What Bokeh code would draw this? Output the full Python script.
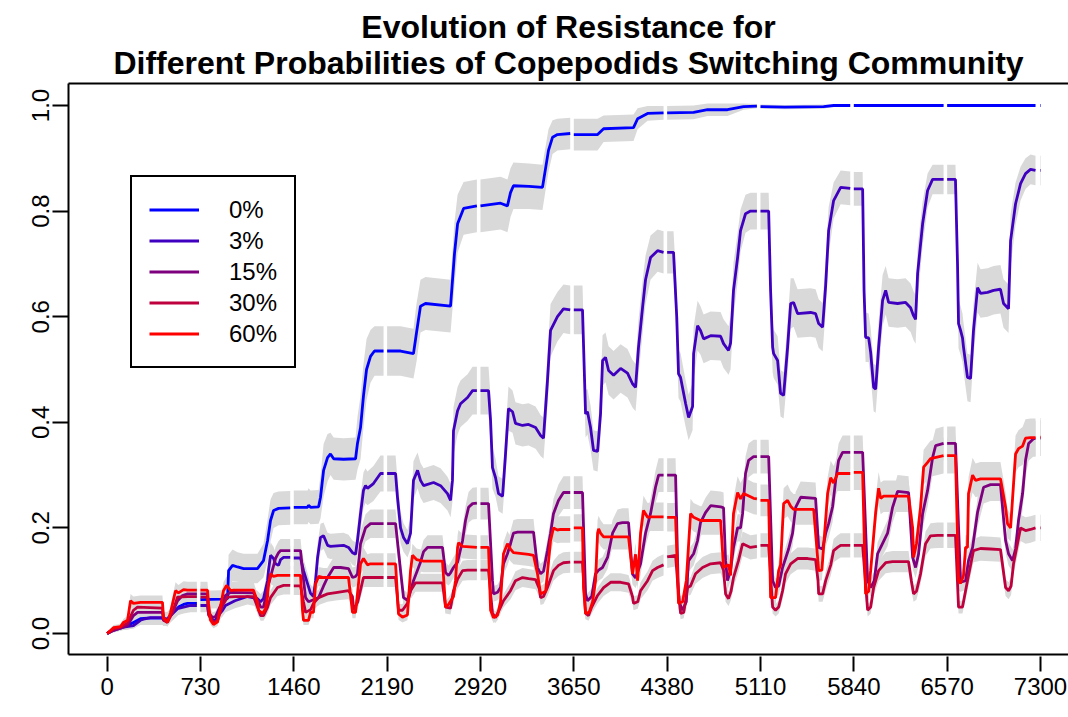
import math
from bokeh.plotting import figure
from bokeh.models import Range1d, FixedTicker, LinearAxis, Legend, LegendItem, PrintfTickFormatter, BasicTickFormatter, Title
from bokeh.embed import file_html
from bokeh.resources import INLINE

NA = float("nan")

title_line1 = "Evolution of Resistance for"
title_line2 = "Different Probabilities of Copepodids Switching Community"
x_ticks = [0, 730, 1460, 2190, 2920, 3650, 4380, 5110, 5840, 6570, 7300]
y_ticks = [0.0, 0.2, 0.4, 0.6, 0.8, 1.0]
legend_labels = ["0%", "3%", "15%", "30%", "60%"]
line_colors = ["#0000FF", "#3F00BF", "#7F007F", "#BF003F", "#FF0000"]
band_color = "#D9D9D9"

# ---------------- 0% ----------------
days_0 = [0, 50, 105, 160, 206, 261, 316, 433, 441, 472, 496, 519, 558, 598, 629, 702, 716,
          730, 900, 942, 950, 981, 1020, 1067, 1176, 1223, 1255, 1278, 1302, 1341, 1432, 1446,
          1460, 1568, 1575, 1591, 1654, 1669, 1693, 1724, 1747, 1772, 1849, 1943, 1958, 1982, 2005, 2029, 2060, 2091, 2162, 2176,
          2190, 2295, 2396, 2420, 2451, 2490, 2686, 2717, 2741, 2788, 2892, 2906,
          2920, 3077, 3131, 3155, 3178, 3300, 3405, 3452, 3484, 3522, 3622, 3636,
          3650, 3836, 3883, 4117, 4149, 4227, 4352, 4366,
          4380, 4587, 4696, 4852, 4978, 5082, 5096,
          5110, 5300, 5604, 5683, 5812, 5826,
          5840, 6542, 6556,
          6570, 7261, 7280,
          7296, 7300]
res_0 = [0.0, 0.008, 0.012, 0.015, 0.021, 0.028, 0.029, 0.029, 0.027, 0.028, 0.034, 0.04, 0.05, 0.055, 0.057, 0.057, NA,
         0.064, 0.065, 0.066, 0.119, 0.129, 0.126, 0.123, 0.123, 0.138, 0.176, 0.214, 0.233, 0.237, 0.238, NA,
         0.239, 0.239, 0.243, 0.239, 0.24, 0.258, 0.309, 0.333, 0.34, 0.331, 0.33, 0.331, 0.36, 0.39, 0.45, 0.5, 0.525, 0.535, 0.535, NA,
         0.535, 0.535, 0.53, 0.57, 0.62, 0.625, 0.62, 0.72, 0.776, 0.805, 0.81, NA,
         0.81, 0.815, 0.81, 0.835, 0.848, 0.847, 0.845, 0.915, 0.94, 0.945, 0.947, NA,
         0.945, 0.945, 0.956, 0.958, 0.975, 0.985, 0.986, NA,
         0.986, 0.987, 0.992, 0.992, 0.998, 0.999, NA,
         0.998, 0.997, 0.998, 1.0, 1.0, NA,
         1.0, 1.0, NA,
         1.0, 1.0, NA,
         1.0, 1.0]
ci_0 = [0.002, 0.005, 0.006, 0.008, 0.01, 0.012, 0.013, 0.013, 0.013, 0.013, 0.013, 0.014, 0.015, 0.016, 0.016, 0.016, NA,
        0.017, 0.017, 0.018, 0.03, 0.03, 0.028, 0.028, 0.028, 0.032, 0.04, 0.04, 0.033, 0.032, 0.032, NA,
        0.032, 0.032, 0.032, 0.032, 0.032, 0.04, 0.05, 0.045, 0.04, 0.04, 0.04, 0.04, 0.05, 0.06, 0.06, 0.058, 0.05, 0.047, 0.047, NA,
        0.047, 0.047, 0.047, 0.055, 0.05, 0.05, 0.05, 0.06, 0.055, 0.05, 0.05, NA,
        0.05, 0.05, 0.05, 0.046, 0.044, 0.043, 0.043, 0.04, 0.032, 0.03, 0.03, NA,
        0.03, 0.03, 0.025, 0.025, 0.02, 0.014, 0.013, NA,
        0.013, 0.013, 0.012, 0.012, 0.006, 0.004, NA,
        0.004, 0.004, 0.004, 0.002, 0.002, NA,
        0.002, 0.002, NA,
        0.002, 0.002, NA,
        0.002, 0.002]

# ---------------- 3% ----------------
days_3 = [0, 50, 128, 206, 261, 285, 339, 433, 441, 472, 496, 551, 598, 652, 702, 716,
          730, 785, 793, 824, 848, 871, 903, 926, 1000, 1098, 1176, 1200, 1223, 1255, 1262, 1278, 1302, 1317, 1341, 1357, 1380, 1432, 1446,
          1460, 1513, 1536, 1568, 1591, 1614, 1630, 1646, 1669, 1693, 1724, 1747, 1849, 1888, 1919, 1943, 1958, 1982, 2005, 2021, 2036, 2083, 2138, 2162, 2176,
          2190, 2256, 2271, 2295, 2318, 2349, 2373, 2396, 2428, 2451, 2475, 2553, 2608, 2662, 2686, 2701, 2709, 2741, 2764, 2819, 2858, 2892, 2906,
          2920, 2983, 2999, 3014, 3038, 3061, 3093, 3116, 3139, 3171, 3194, 3249, 3296, 3351, 3390, 3413, 3444, 3468, 3522, 3569, 3622, 3636,
          3650, 3718, 3742, 3757, 3781, 3804, 3836, 3859, 3875, 3898, 3922, 3961, 4016, 4070, 4109, 4133, 4156, 4188, 4211, 4250, 4305, 4352, 4366,
          4380, 4430, 4455, 4469, 4485, 4524, 4548, 4579, 4587, 4618, 4641, 4665, 4720, 4798, 4821, 4860, 4876, 4899, 4931, 4954, 4993, 5032, 5082, 5096,
          5110, 5174, 5189, 5205, 5213, 5244, 5267, 5291, 5322, 5346, 5369, 5400, 5502, 5541, 5565, 5596, 5620, 5643, 5682, 5737, 5812, 5826,
          5840, 5909, 5920, 5932, 5956, 5972, 5995, 6011, 6034, 6065, 6089, 6112, 6182, 6245, 6284, 6307, 6323, 6339, 6378, 6417, 6456, 6542, 6556,
          6570, 6635, 6651, 6659, 6675, 6690, 6698, 6729, 6753, 6776, 6808, 6831, 6886, 6933, 6987, 7011, 7050, 7066, 7105, 7144, 7183, 7222, 7261, 7280,
          7296, 7300]
res_3 = [0.0, 0.006, 0.012, 0.015, 0.025, 0.027, 0.03, 0.03, 0.025, 0.026, 0.034, 0.047, 0.05, 0.053, 0.053, NA,
         0.053, 0.053, 0.038, 0.025, 0.025, 0.035, 0.044, 0.053, 0.062, 0.07, 0.066, 0.06, 0.066, 0.1, 0.119, 0.148, 0.142, 0.132, 0.129, 0.14, 0.144, 0.144, NA,
         0.143, 0.143, 0.119, 0.094, 0.076, 0.07, 0.1, 0.144, 0.182, 0.185, 0.167, 0.165, 0.167, 0.163, 0.153, 0.15, 0.176, 0.227, 0.271, 0.28, 0.275, 0.284, 0.303, 0.303, NA,
         0.303, 0.303, 0.258, 0.2, 0.182, 0.17, 0.19, 0.29, 0.309, 0.29, 0.28, 0.286, 0.28, 0.265, 0.252, 0.29, 0.384, 0.422, 0.435, 0.447, 0.46, 0.46, NA,
         0.46, 0.46, 0.403, 0.314, 0.295, 0.265, 0.26, 0.34, 0.426, 0.42, 0.398, 0.394, 0.396, 0.39, 0.375, 0.37, 0.479, 0.574, 0.6, 0.615, 0.613, NA,
         0.613, 0.613, 0.416, 0.42, 0.39, 0.347, 0.345, 0.416, 0.517, 0.523, 0.498, 0.489, 0.502, 0.493, 0.473, 0.466, 0.542, 0.618, 0.67, 0.712, 0.725, 0.722, NA,
         0.722, 0.722, 0.6, 0.492, 0.485, 0.436, 0.409, 0.43, 0.53, 0.583, 0.574, 0.558, 0.564, 0.563, 0.549, 0.536, 0.55, 0.65, 0.712, 0.763, 0.795, 0.8, 0.8, NA,
         0.8, 0.8, 0.65, 0.542, 0.53, 0.517, 0.455, 0.451, 0.542, 0.625, 0.627, 0.606, 0.608, 0.606, 0.587, 0.58, 0.66, 0.763, 0.82, 0.845, 0.843, NA,
         0.842, 0.842, 0.65, 0.561, 0.56, 0.532, 0.466, 0.463, 0.542, 0.631, 0.65, 0.627, 0.625, 0.627, 0.617, 0.602, 0.595, 0.682, 0.776, 0.839, 0.86, 0.86, NA,
         0.86, 0.86, 0.7, 0.587, 0.574, 0.56, 0.542, 0.485, 0.483, 0.574, 0.655, 0.644, 0.646, 0.65, 0.652, 0.625, 0.615, 0.744, 0.814, 0.852, 0.871, 0.879, 0.877, NA,
         0.877, 0.877]
ci_3 = [0.002, 0.004, 0.005, 0.006, 0.008, 0.009, 0.009, 0.009, 0.009, 0.009, 0.01, 0.012, 0.012, 0.013, 0.013, NA,
        0.013, 0.013, 0.012, 0.01, 0.01, 0.011, 0.012, 0.013, 0.014, 0.015, 0.015, 0.015, 0.015, 0.022, 0.024, 0.025, 0.022, 0.021, 0.021, 0.022, 0.022, 0.022, NA,
        0.022, 0.022, 0.022, 0.02, 0.017, 0.017, 0.022, 0.026, 0.026, 0.025, 0.024, 0.024, 0.024, 0.024, 0.023, 0.023, 0.028, 0.034, 0.034, 0.033, 0.032, 0.033, 0.034, 0.034, NA,
        0.034, 0.034, 0.034, 0.03, 0.027, 0.026, 0.03, 0.036, 0.034, 0.033, 0.033, 0.033, 0.033, 0.032, 0.032, 0.04, 0.045, 0.045, 0.044, 0.044, 0.045, 0.045, NA,
        0.045, 0.045, 0.045, 0.04, 0.036, 0.033, 0.033, 0.04, 0.042, 0.04, 0.04, 0.04, 0.04, 0.04, 0.039, 0.039, 0.05, 0.05, 0.047, 0.046, 0.046, NA,
        0.046, 0.046, 0.045, 0.043, 0.042, 0.038, 0.038, 0.045, 0.048, 0.047, 0.046, 0.046, 0.046, 0.046, 0.045, 0.045, 0.052, 0.05, 0.046, 0.042, 0.04, 0.04, NA,
        0.04, 0.04, 0.05, 0.046, 0.046, 0.044, 0.043, 0.045, 0.05, 0.047, 0.046, 0.046, 0.046, 0.046, 0.046, 0.046, 0.05, 0.052, 0.046, 0.04, 0.036, 0.035, 0.035, NA,
        0.035, 0.035, 0.05, 0.047, 0.046, 0.046, 0.044, 0.044, 0.05, 0.048, 0.046, 0.046, 0.046, 0.046, 0.046, 0.046, 0.05, 0.045, 0.034, 0.032, 0.032, NA,
        0.032, 0.032, 0.05, 0.047, 0.046, 0.046, 0.045, 0.045, 0.05, 0.048, 0.046, 0.046, 0.046, 0.046, 0.046, 0.046, 0.046, 0.05, 0.042, 0.032, 0.028, 0.028, NA,
        0.028, 0.028, 0.05, 0.047, 0.046, 0.046, 0.046, 0.045, 0.045, 0.05, 0.047, 0.046, 0.046, 0.046, 0.046, 0.046, 0.046, 0.05, 0.04, 0.032, 0.029, 0.028, 0.028, NA,
        0.028, 0.028]

# ---------------- 15% ----------------
days_15 = [0, 50, 105, 160, 206, 238, 433, 441, 472, 512, 551, 590, 629, 702, 716,
           730, 785, 793, 824, 848, 887, 926, 966, 1145, 1184, 1200, 1223, 1255, 1317, 1341, 1357, 1432, 1446,
           1460, 1513, 1528, 1552, 1575, 1614, 1654, 1693, 1724, 1772, 1826, 1888, 1919, 1943, 1958, 1982, 2021, 2060, 2162, 2176,
           2190, 2256, 2295, 2318, 2349, 2373, 2396, 2451, 2475, 2506, 2623, 2647, 2670, 2686, 2709, 2741, 2780, 2803, 2827, 2858, 2892, 2906,
           2920, 2983, 3014, 3022, 3054, 3077, 3100, 3131, 3155, 3178, 3210, 3335, 3366, 3390, 3413, 3444, 3468, 3491, 3530, 3569, 3622, 3636,
           3650, 3718, 3742, 3757, 3790, 3820, 3844, 3875, 3914, 3953, 3992, 4031, 4078, 4109, 4133, 4172, 4211, 4250, 4289, 4313, 4352, 4366,
           4380, 4446, 4469, 4501, 4530, 4540, 4548, 4587, 4618, 4641, 4680, 4720, 4798, 4821, 4837, 4852, 4876, 4899, 4931, 4954, 4970, 4993, 5017, 5056, 5082, 5096,
           5110, 5174, 5205, 5228, 5252, 5283, 5306, 5330, 5361, 5385, 5424, 5541, 5565, 5596, 5620, 5643, 5674, 5698, 5721, 5752, 5812, 5826,
           5840, 5909, 5948, 5972, 6000, 6026, 6050, 6104, 6143, 6182, 6268, 6300, 6323, 6346, 6378, 6417, 6456, 6480, 6542, 6556,
           6570, 6635, 6675, 6714, 6737, 6769, 6808, 6855, 6909, 6987, 7027, 7050, 7081, 7105, 7128, 7160, 7183, 7207, 7245, 7261, 7280,
           7296, 7300]
res_15 = [0.0, 0.006, 0.01, 0.015, 0.034, 0.04, 0.04, 0.03, 0.025, 0.04, 0.062, 0.072, 0.075, 0.075, NA,
          0.075, 0.075, 0.04, 0.03, 0.032, 0.053, 0.072, 0.078, 0.077, 0.06, 0.05, 0.05, 0.087, 0.142, 0.153, 0.157, 0.157, NA,
          0.157, 0.157, 0.119, 0.068, 0.06, 0.064, 0.068, 0.09, 0.106, 0.125, 0.125, 0.123, 0.106, 0.108, 0.113, 0.17, 0.2, 0.208, 0.208, NA,
          0.208, 0.208, 0.119, 0.068, 0.063, 0.081, 0.1, 0.135, 0.155, 0.163, 0.163, 0.115, 0.11, 0.115, 0.125, 0.135, 0.176, 0.214, 0.239, 0.246, 0.247, NA,
          0.246, 0.246, 0.1, 0.075, 0.078, 0.087, 0.132, 0.151, 0.17, 0.19, 0.192, 0.192, 0.125, 0.113, 0.118, 0.157, 0.19, 0.227, 0.252, 0.267, 0.267, NA,
          0.267, 0.267, 0.075, 0.062, 0.07, 0.113, 0.12, 0.125, 0.144, 0.19, 0.208, 0.21, 0.21, 0.113, 0.105, 0.132, 0.19, 0.227, 0.277, 0.3, 0.3, NA,
          0.3, 0.3, 0.062, 0.044, 0.06, 0.11, 0.138, 0.151, 0.176, 0.21, 0.229, 0.242, 0.24, 0.238, 0.138, 0.1, 0.12, 0.163, 0.2, 0.2, 0.227, 0.303, 0.328, 0.335, 0.335, NA,
          0.335, 0.335, 0.1, 0.087, 0.09, 0.125, 0.142, 0.16, 0.19, 0.239, 0.258, 0.256, 0.163, 0.16, 0.19, 0.208, 0.24, 0.29, 0.328, 0.343, 0.343, NA,
          0.343, 0.343, 0.1, 0.087, 0.1, 0.151, 0.163, 0.19, 0.239, 0.269, 0.267, 0.144, 0.125, 0.15, 0.227, 0.271, 0.333, 0.356, 0.36, NA,
          0.36, 0.36, 0.097, 0.1, 0.138, 0.163, 0.23, 0.277, 0.282, 0.282, 0.176, 0.151, 0.138, 0.16, 0.214, 0.265, 0.328, 0.36, 0.369, 0.369, NA,
          0.37, 0.37]
ci_15 = [0.002, 0.004, 0.005, 0.006, 0.01, 0.011, 0.011, 0.01, 0.009, 0.011, 0.013, 0.014, 0.015, 0.015, NA,
         0.015, 0.015, 0.012, 0.01, 0.01, 0.013, 0.015, 0.015, 0.015, 0.014, 0.013, 0.013, 0.018, 0.022, 0.022, 0.022, 0.022, NA,
         0.022, 0.022, 0.02, 0.015, 0.014, 0.014, 0.015, 0.017, 0.019, 0.02, 0.02, 0.02, 0.019, 0.019, 0.02, 0.025, 0.026, 0.027, 0.027, NA,
         0.027, 0.027, 0.022, 0.015, 0.014, 0.016, 0.018, 0.021, 0.022, 0.023, 0.023, 0.02, 0.019, 0.02, 0.02, 0.021, 0.025, 0.027, 0.029, 0.03, 0.03, NA,
         0.03, 0.03, 0.02, 0.015, 0.015, 0.016, 0.021, 0.022, 0.024, 0.025, 0.025, 0.025, 0.02, 0.019, 0.02, 0.023, 0.025, 0.028, 0.03, 0.031, 0.031, NA,
         0.031, 0.031, 0.016, 0.014, 0.015, 0.02, 0.02, 0.02, 0.022, 0.025, 0.027, 0.027, 0.027, 0.02, 0.019, 0.021, 0.025, 0.028, 0.031, 0.032, 0.032, NA,
         0.032, 0.032, 0.014, 0.012, 0.014, 0.019, 0.021, 0.022, 0.024, 0.027, 0.028, 0.029, 0.029, 0.029, 0.021, 0.018, 0.02, 0.023, 0.026, 0.026, 0.028, 0.032, 0.032, 0.032, 0.032, NA,
         0.032, 0.032, 0.018, 0.017, 0.017, 0.02, 0.022, 0.023, 0.025, 0.029, 0.03, 0.03, 0.023, 0.023, 0.025, 0.027, 0.029, 0.032, 0.032, 0.032, 0.032, NA,
         0.032, 0.032, 0.018, 0.017, 0.018, 0.022, 0.023, 0.025, 0.029, 0.031, 0.031, 0.022, 0.02, 0.022, 0.028, 0.031, 0.032, 0.032, 0.032, NA,
         0.032, 0.032, 0.018, 0.018, 0.021, 0.023, 0.028, 0.031, 0.031, 0.031, 0.024, 0.022, 0.021, 0.023, 0.027, 0.031, 0.032, 0.033, 0.034, 0.034, NA,
         0.034, 0.034]

# ---------------- 30% ----------------
days_30 = [0, 50, 105, 160, 206, 238, 433, 441, 472, 512, 551, 629, 702, 716,
           730, 785, 793, 832, 864, 903, 942, 1000, 1145, 1184, 1200, 1223, 1255, 1278, 1333, 1380, 1432, 1446,
           1460, 1513, 1536, 1552, 1591, 1614, 1654, 1724, 1802, 1888, 1919, 1927, 1960, 2005, 2060, 2162, 2176,
           2190, 2256, 2279, 2310, 2349, 2373, 2412, 2475, 2623, 2647, 2686, 2709, 2741, 2780, 2820, 2892, 2906,
           2920, 2983, 3014, 3038, 3077, 3100, 3155, 3194, 3249, 3296, 3351, 3380, 3390, 3413, 3444, 3491, 3530, 3569, 3622, 3636,
           3650, 3718, 3742, 3765, 3790, 3836, 3883, 3938, 4016, 4078, 4109, 4117, 4150, 4172, 4227, 4266, 4305, 4352, 4366,
           4380, 4446, 4461, 4485, 4510, 4540, 4563, 4602, 4657, 4720, 4798, 4821, 4837, 4860, 4880, 4899, 4938, 4970, 5032, 5082, 5096,
           5110, 5174, 5205, 5228, 5252, 5283, 5306, 5346, 5400, 5479, 5541, 5560, 5565, 5596, 5620, 5660, 5682, 5713, 5737, 5812, 5826,
           5840, 5909, 5948, 5972, 5995, 6034, 6089, 6143, 6268, 6290, 6307, 6330, 6362, 6401, 6440, 6495, 6542, 6556,
           6570, 6635, 6659, 6690, 6729, 6776, 6831, 6909, 6987, 7027, 7050, 7070, 7089, 7144, 7183, 7222, 7261, 7280,
           7296, 7300]
res_30 = [0.0, 0.008, 0.012, 0.02, 0.044, 0.05, 0.048, 0.025, 0.021, 0.04, 0.069, 0.07, 0.07, NA,
          0.069, 0.069, 0.035, 0.021, 0.025, 0.053, 0.069, 0.07, 0.07, 0.045, 0.034, 0.034, 0.05, 0.068, 0.087, 0.091, 0.091, NA,
          0.09, 0.09, 0.06, 0.04, 0.045, 0.057, 0.068, 0.075, 0.078, 0.081, 0.07, 0.044, 0.06, 0.106, 0.106, 0.106, NA,
          0.106, 0.106, 0.044, 0.044, 0.057, 0.081, 0.096, 0.096, 0.096, 0.05, 0.048, 0.081, 0.103, 0.119, 0.12, 0.12, NA,
          0.12, 0.12, 0.038, 0.03, 0.05, 0.062, 0.081, 0.1, 0.106, 0.104, 0.102, 0.085, 0.068, 0.07, 0.087, 0.119, 0.129, 0.134, 0.135, NA,
          0.135, 0.135, 0.038, 0.034, 0.05, 0.072, 0.087, 0.097, 0.097, 0.094, 0.07, 0.057, 0.06, 0.081, 0.1, 0.119, 0.125, 0.13, NA,
          0.145, 0.148, 0.1, 0.038, 0.04, 0.087, 0.09, 0.113, 0.125, 0.132, 0.134, 0.12, 0.075, 0.066, 0.08, 0.106, 0.138, 0.17, 0.163, 0.165, NA,
          0.167, 0.167, 0.05, 0.044, 0.05, 0.081, 0.113, 0.132, 0.142, 0.142, 0.14, 0.1, 0.075, 0.075, 0.1, 0.13, 0.157, 0.163, 0.167, 0.167, NA,
          0.167, 0.167, 0.044, 0.05, 0.087, 0.119, 0.134, 0.136, 0.136, 0.1, 0.075, 0.08, 0.113, 0.17, 0.185, 0.186, 0.186, NA,
          0.186, 0.186, 0.05, 0.05, 0.1, 0.157, 0.161, 0.16, 0.159, 0.087, 0.081, 0.09, 0.132, 0.2, 0.195, 0.197, 0.2, NA,
          0.2, 0.2]
ci_30 = [0.002, 0.004, 0.005, 0.007, 0.011, 0.012, 0.012, 0.009, 0.008, 0.011, 0.014, 0.014, 0.014, NA,
         0.014, 0.014, 0.01, 0.008, 0.009, 0.012, 0.014, 0.014, 0.014, 0.012, 0.01, 0.01, 0.012, 0.014, 0.016, 0.017, 0.017, NA,
         0.017, 0.017, 0.014, 0.011, 0.012, 0.013, 0.014, 0.015, 0.015, 0.016, 0.014, 0.012, 0.013, 0.018, 0.018, 0.018, NA,
         0.018, 0.018, 0.012, 0.012, 0.013, 0.016, 0.017, 0.017, 0.017, 0.012, 0.012, 0.016, 0.018, 0.019, 0.019, 0.019, NA,
         0.019, 0.019, 0.011, 0.01, 0.012, 0.013, 0.016, 0.018, 0.018, 0.018, 0.018, 0.016, 0.014, 0.014, 0.016, 0.019, 0.02, 0.02, 0.02, NA,
         0.02, 0.02, 0.011, 0.01, 0.012, 0.015, 0.016, 0.017, 0.017, 0.017, 0.014, 0.013, 0.013, 0.016, 0.018, 0.019, 0.02, 0.02, NA,
         0.021, 0.021, 0.018, 0.011, 0.011, 0.016, 0.017, 0.019, 0.02, 0.02, 0.02, 0.019, 0.015, 0.014, 0.016, 0.018, 0.021, 0.023, 0.023, 0.023, NA,
         0.023, 0.023, 0.012, 0.012, 0.012, 0.016, 0.019, 0.02, 0.021, 0.021, 0.021, 0.018, 0.015, 0.015, 0.018, 0.02, 0.022, 0.023, 0.023, 0.023, NA,
         0.023, 0.023, 0.012, 0.012, 0.016, 0.019, 0.02, 0.02, 0.02, 0.018, 0.015, 0.016, 0.019, 0.023, 0.024, 0.024, 0.024, NA,
         0.024, 0.024, 0.012, 0.012, 0.018, 0.022, 0.023, 0.023, 0.023, 0.016, 0.016, 0.017, 0.02, 0.025, 0.025, 0.025, 0.025, NA,
         0.025, 0.025]

# ---------------- 60% ----------------
days_60 = [0, 50, 105, 128, 160, 183, 206, 261, 433, 441, 472, 496, 535, 558, 598, 629, 702, 716,
           730, 785, 793, 809, 832, 864, 910, 934, 966, 989, 1145, 1176, 1184, 1215, 1239, 1255, 1262, 1278, 1302, 1333, 1432, 1446,
           1460, 1513, 1528, 1536, 1575, 1591, 1614, 1630, 1654, 1693, 1888, 1919, 1943, 1960, 1982, 2005, 2036, 2060, 2162, 2176,
           2190, 2256, 2279, 2310, 2349, 2373, 2388, 2420, 2475, 2623, 2647, 2670, 2709, 2725, 2741, 2748, 2780, 2892, 2906,
           2920, 2983, 2999, 3022, 3054, 3077, 3100, 3131, 3155, 3178, 3296, 3335, 3366, 3390, 3430, 3468, 3491, 3522, 3546, 3622, 3636,
           3650, 3718, 3726, 3742, 3770, 3797, 3820, 3836, 3844, 3859, 3883, 4078, 4109, 4133, 4149, 4172, 4195, 4227, 4250, 4352, 4366,
           4380, 4446, 4469, 4501, 4530, 4563, 4587, 4641, 4798, 4821, 4860, 4876, 4899, 4931, 4954, 4978, 5056, 5082, 5096,
           5110, 5174, 5189, 5228, 5252, 5267, 5291, 5322, 5346, 5369, 5526, 5565, 5590, 5635, 5659, 5682, 5713, 5737, 5812, 5826,
           5840, 5909, 5932, 5956, 5972, 6011, 6034, 6050, 6073, 6268, 6300, 6307, 6330, 6362, 6386, 6417, 6440, 6542, 6556,
           6570, 6635, 6659, 6675, 6698, 6714, 6729, 6737, 6769, 6792, 6831, 6987, 7027, 7042, 7066, 7105, 7128, 7160, 7183, 7222, 7261, 7280,
           7296, 7300]
res_60 = [0.0, 0.011, 0.013, 0.021, 0.025, 0.062, 0.057, 0.059, 0.059, 0.03, 0.021, 0.04, 0.081, 0.077, 0.083, 0.082, 0.082, NA,
          0.082, 0.082, 0.057, 0.025, 0.017, 0.022, 0.081, 0.091, 0.081, 0.082, 0.082, 0.06, 0.044, 0.038, 0.047, 0.07, 0.094, 0.113, 0.108, 0.11, 0.11, NA,
          0.11, 0.11, 0.044, 0.025, 0.025, 0.04, 0.04, 0.094, 0.108, 0.106, 0.106, 0.04, 0.04, 0.08, 0.132, 0.142, 0.13, 0.132, 0.132, NA,
          0.132, 0.132, 0.037, 0.031, 0.035, 0.119, 0.148, 0.14, 0.137, 0.137, 0.05, 0.055, 0.07, 0.1, 0.163, 0.172, 0.165, 0.163, NA,
          0.163, 0.163, 0.044, 0.03, 0.035, 0.06, 0.151, 0.17, 0.16, 0.153, 0.15, 0.148, 0.113, 0.075, 0.08, 0.176, 0.2, 0.196, 0.197, 0.197, NA,
          0.2, 0.2, 0.087, 0.038, 0.04, 0.06, 0.1, 0.19, 0.198, 0.19, 0.183, 0.183, 0.113, 0.15, 0.1, 0.19, 0.233, 0.22, 0.221, 0.221, NA,
          0.22, 0.22, 0.057, 0.06, 0.1, 0.227, 0.22, 0.214, 0.214, 0.125, 0.13, 0.11, 0.227, 0.267, 0.255, 0.265, 0.256, 0.255, NA,
          0.252, 0.252, 0.068, 0.068, 0.119, 0.13, 0.246, 0.252, 0.241, 0.235, 0.235, 0.119, 0.12, 0.265, 0.295, 0.285, 0.303, 0.303, 0.303, NA,
          0.305, 0.305, 0.075, 0.08, 0.12, 0.23, 0.275, 0.256, 0.26, 0.26, 0.2, 0.144, 0.17, 0.239, 0.315, 0.324, 0.331, 0.337, NA,
          0.337, 0.337, 0.1, 0.095, 0.11, 0.163, 0.163, 0.265, 0.3, 0.29, 0.293, 0.293, 0.239, 0.208, 0.2, 0.34, 0.35, 0.355, 0.37, 0.371, 0.371, NA,
          0.372, 0.372]
ci_60 = [0.002, 0.005, 0.005, 0.007, 0.008, 0.013, 0.013, 0.013, 0.013, 0.01, 0.008, 0.011, 0.016, 0.015, 0.016, 0.016, 0.016, NA,
         0.016, 0.016, 0.013, 0.009, 0.007, 0.008, 0.016, 0.017, 0.016, 0.016, 0.016, 0.014, 0.012, 0.011, 0.012, 0.014, 0.017, 0.019, 0.018, 0.018, 0.018, NA,
         0.018, 0.018, 0.012, 0.009, 0.009, 0.011, 0.011, 0.017, 0.018, 0.018, 0.018, 0.011, 0.011, 0.016, 0.02, 0.021, 0.02, 0.02, 0.02, NA,
         0.02, 0.02, 0.011, 0.01, 0.01, 0.019, 0.022, 0.021, 0.021, 0.021, 0.012, 0.013, 0.014, 0.018, 0.023, 0.024, 0.023, 0.023, NA,
         0.023, 0.023, 0.012, 0.01, 0.01, 0.013, 0.022, 0.024, 0.023, 0.022, 0.022, 0.022, 0.019, 0.015, 0.016, 0.024, 0.026, 0.025, 0.025, 0.025, NA,
         0.026, 0.026, 0.016, 0.011, 0.011, 0.013, 0.018, 0.025, 0.025, 0.025, 0.024, 0.024, 0.019, 0.022, 0.018, 0.025, 0.028, 0.027, 0.027, 0.027, NA,
         0.027, 0.027, 0.013, 0.013, 0.018, 0.028, 0.027, 0.027, 0.027, 0.02, 0.02, 0.018, 0.028, 0.031, 0.03, 0.031, 0.03, 0.03, NA,
         0.03, 0.03, 0.014, 0.014, 0.019, 0.02, 0.029, 0.03, 0.029, 0.029, 0.029, 0.019, 0.019, 0.031, 0.032, 0.032, 0.033, 0.033, 0.033, NA,
         0.033, 0.033, 0.015, 0.016, 0.019, 0.028, 0.031, 0.03, 0.03, 0.03, 0.026, 0.022, 0.024, 0.029, 0.033, 0.034, 0.034, 0.034, NA,
         0.034, 0.034, 0.018, 0.017, 0.018, 0.023, 0.023, 0.031, 0.033, 0.032, 0.032, 0.032, 0.029, 0.027, 0.026, 0.035, 0.035, 0.036, 0.036, 0.036, 0.036, NA,
         0.036, 0.036]

series = [
    ("0%", days_0, res_0, ci_0),
    ("3%", days_3, res_3, ci_3),
    ("15%", days_15, res_15, ci_15),
    ("30%", days_30, res_30, ci_30),
    ("60%", days_60, res_60, ci_60),
]
for name, d, v, c in series:
    if not (len(d) == len(v) == len(c)):
        raise SystemExit("length mismatch %s: %d %d %d" % (name, len(d), len(v), len(c)))


def segments(days, vals, cis):
    out, cur = [], ([], [], [])
    for d, v, c in zip(days, vals, cis):
        if math.isnan(v):
            if cur[0]:
                out.append(cur)
            cur = ([], [], [])
        else:
            cur[0].append(d)
            cur[1].append(v)
            cur[2].append(c)
    if cur[0]:
        out.append(cur)
    return out


FONT = "Liberation Sans"

p = figure(width=1068, height=717, output_backend="svg", toolbar_location=None,
           x_range=Range1d(-302, 7519), y_range=Range1d(-0.0398, 1.0417),
           min_border_left=68, min_border_right=0, min_border_top=83, min_border_bottom=63,
           background_fill_color="white", border_fill_color="white")
p.outline_line_color = None
p.xgrid.visible = False
p.ygrid.visible = False

# title (two centred lines)
p.title.text = title_line1
p.title.align = "center"
p.title.text_font = FONT
p.title.text_font_size = "32px"
p.title.text_font_style = "bold"
p.title.text_color = "black"
p.title.standoff = -9

# bands
for name, d, v, c in series:
    for sd, sv, sc in segments(d, v, c):
        lo = [a - b for a, b in zip(sv, sc)]
        hi = [a + b for a, b in zip(sv, sc)]
        p.varea(x=sd, y1=lo, y2=hi, fill_color=band_color, fill_alpha=1.0)

# lines
renderers = []
for (name, d, v, c), col in zip(series, line_colors):
    r = p.line(d, v, line_color=col, line_width=2.8)
    renderers.append(r)

# axes
xa = p.xaxis[0]
xa.ticker = FixedTicker(ticks=x_ticks)
xa.formatter = BasicTickFormatter()
xa.minor_tick_line_color = None
xa.major_tick_in = -2
xa.major_tick_out = 17
xa.major_tick_line_width = 2
xa.major_tick_line_color = "black"
xa.axis_line_width = 2
xa.axis_line_color = "black"
xa.major_label_standoff = 6
xa.major_label_text_font = FONT
xa.major_label_text_font_size = "24px"
xa.major_label_text_color = "black"

ya = p.yaxis[0]
ya.ticker = FixedTicker(ticks=y_ticks)
ya.formatter = PrintfTickFormatter(format="%.1f")
ya.minor_tick_line_color = None
ya.major_tick_in = 0
ya.major_tick_out = 16
ya.major_tick_line_width = 2
ya.major_tick_line_color = "black"
ya.axis_line_width = 2
ya.axis_line_color = "black"
ya.major_label_standoff = 3
ya.major_label_orientation = "vertical"
ya.major_label_text_font = FONT
ya.major_label_text_font_size = "24px"
ya.major_label_text_color = "black"

top = LinearAxis(ticker=FixedTicker(ticks=[]), major_tick_line_color=None, minor_tick_line_color=None,
                 major_tick_out=0, major_tick_in=0, major_label_standoff=0,
                 axis_line_width=2, axis_line_color="black")
p.add_layout(top, "above")

sub = Title(text=title_line2, align="center", text_font=FONT, text_font_size="32px",
            text_font_style="bold", text_color="black", standoff=5)
p.add_layout(sub, "above")

legend = Legend(items=[LegendItem(label=l, renderers=[r]) for l, r in zip(legend_labels, renderers)],
                location=(62, 286), orientation="vertical",
                border_line_color="black", border_line_width=2, border_line_alpha=1.0,
                background_fill_color="white", background_fill_alpha=1.0,
                padding=17, spacing=0, margin=0,
                label_height=31, glyph_height=31, glyph_width=50, label_standoff=30,
                label_text_font=FONT, label_text_font_size="24px", label_text_color="black")
p.add_layout(legend)

open("out.html", "w").write(file_html(p, INLINE))
